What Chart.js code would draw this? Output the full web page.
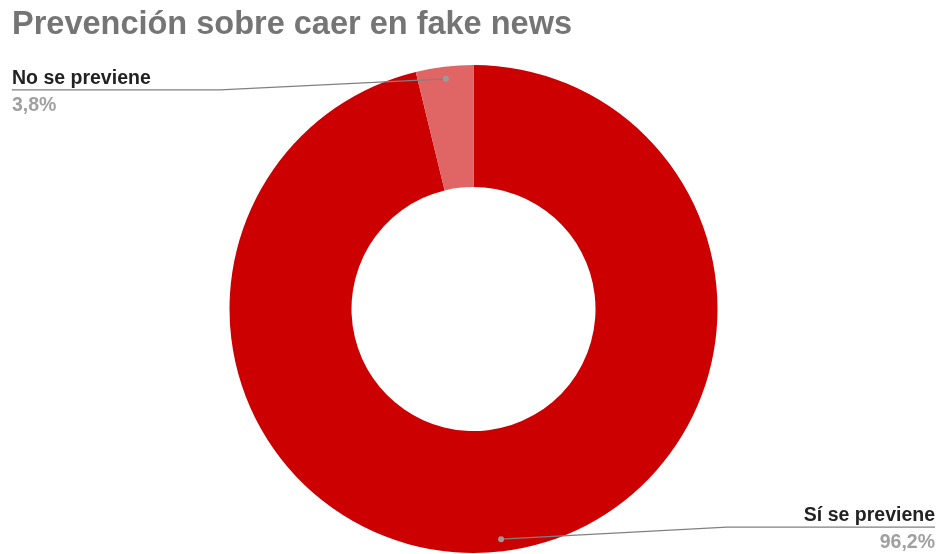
<!DOCTYPE html>
<html>
<head>
<meta charset="utf-8">
<title>Prevención sobre caer en fake news</title>
<script src="https://cdn.jsdelivr.net/npm/chart.js@4.4.1/dist/chart.umd.min.js"></script>
<style>
  html, body { margin: 0; padding: 0; background: #fff; }
  #wrap { position: relative; width: 937px; height: 554px; }
</style>
</head>
<body>
<div id="wrap"><canvas id="myChart"></canvas></div>
<script>
var titleText = 'Prevención sobre caer en fake news';
var categories = ['Sí se previene', 'No se previene'];
var percents = [96.2, 3.8];
var sliceColors = ['#cc0000', '#e06666'];

// leader line + label drawn next to each slice
var calloutPlugin = {
    id: 'callouts',
    afterDatasetsDraw: function (chart) {
        var ctx = chart.ctx;
        var arcs = chart.getDatasetMeta(0).data;
        arcs.forEach(function (arc, i) {
            var p = arc.getProps(['x', 'y', 'startAngle', 'endAngle', 'outerRadius'], true);
            var mid = (p.startAngle + p.endAngle) / 2;
            var dx = p.x + Math.cos(mid) * p.outerRadius * 0.95;
            var dy = p.y + Math.sin(mid) * p.outerRadius * 0.95;
            var left = Math.cos(mid) < 0;
            var lineY = left ? dy + 11 : dy - 12;
            var elbowX = left ? 220 : 727;
            var endX = left ? 12 : 935;

            ctx.save();
            ctx.strokeStyle = '#808080';
            ctx.lineWidth = 1.3;
            ctx.beginPath();
            ctx.moveTo(dx, dy);
            ctx.lineTo(elbowX, lineY);
            ctx.lineTo(endX, lineY);
            ctx.stroke();

            ctx.fillStyle = '#9a9a9a';
            ctx.beginPath();
            ctx.arc(dx, dy, 3, 0, Math.PI * 2);
            ctx.fill();

            ctx.textAlign = left ? 'left' : 'right';
            ctx.textBaseline = 'alphabetic';
            ctx.font = 'bold 19.5px "Liberation Sans", Arial, sans-serif';
            ctx.fillStyle = '#222222';
            ctx.fillText(categories[i], endX, lineY - 6);
            ctx.fillStyle = '#a0a0a0';
            ctx.fillText(percents[i].toFixed(1).replace('.', ',') + '%', endX, lineY + 21);
            ctx.restore();
        });
    }
};

var chart = new Chart(document.getElementById('myChart').getContext('2d'), {
    type: 'doughnut',
    data: {
        labels: categories,
        datasets: [{
            data: percents,
            backgroundColor: sliceColors,
            borderWidth: 0
        }]
    },
    options: {
        responsive: true,
        maintainAspectRatio: false,
        animation: false,
        events: [],
        cutout: '50%',
        layout: { padding: { top: 0, bottom: 1, left: 12, right: 2 } },
        plugins: {
            legend: { display: false },
            tooltip: { enabled: false },
            title: {
                display: true,
                text: titleText,
                align: 'start',
                color: '#757575',
                font: { family: '"Liberation Sans", Arial, sans-serif', size: 32.5, weight: 'bold', lineHeight: 1.2 },
                padding: { top: 6, bottom: 20 }
            }
        }
    },
    plugins: [calloutPlugin]
});
</script>
</body>
</html>
